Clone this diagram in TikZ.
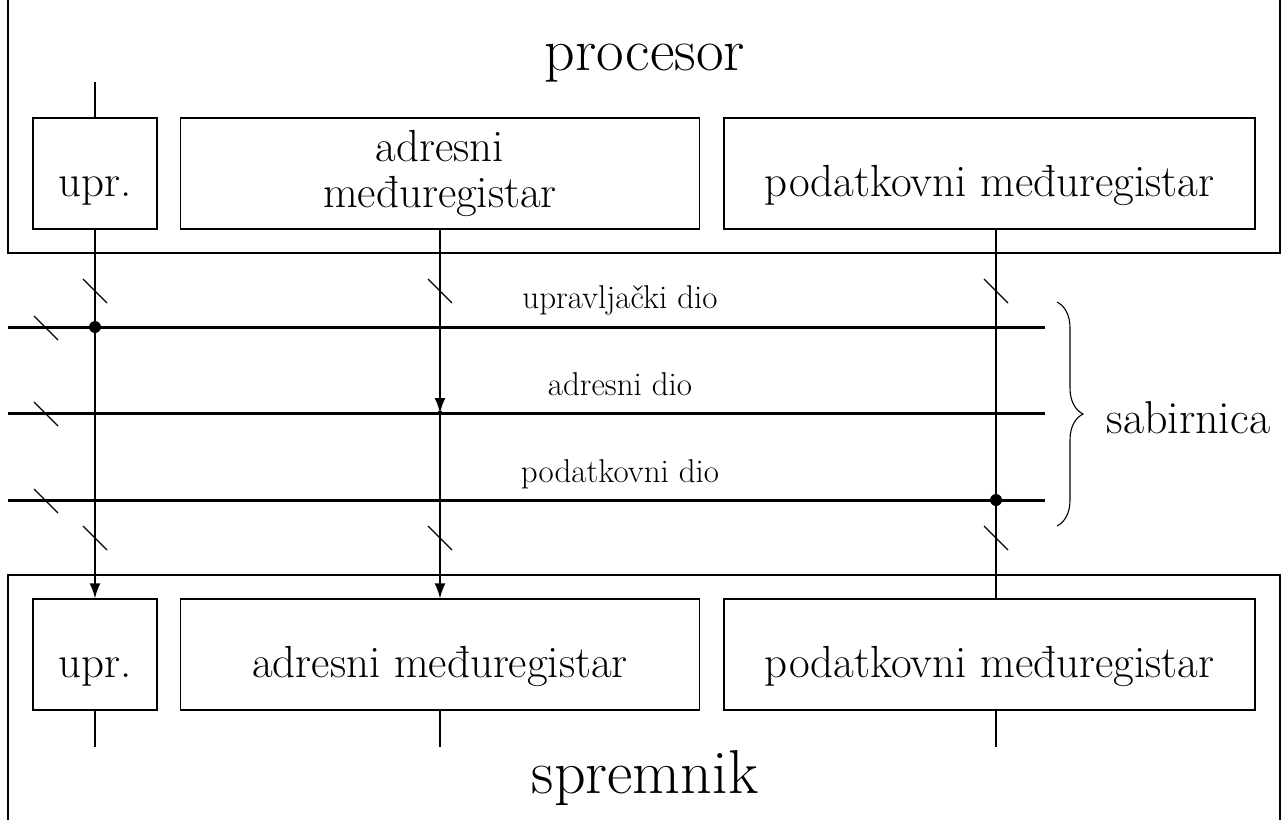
\documentclass[tikz,border=0pt]{standalone}
\usepackage{fontspec}
\usetikzlibrary{arrows.meta,calc,decorations.pathreplacing}
\begin{document}
\begin{tikzpicture}[x=1pt,y=-1pt,
  frame/.style={draw,line width=1.5pt},
  regbox/.style={draw,line width=1.5pt,minimum height=111pt,inner sep=0pt,
    align=center,font=\fontsize{45}{46}\selectfont},
  onebox/.style={regbox,text height=45pt,text depth=0pt},
  wire/.style={line width=1.6pt},
  awire/.style={line width=1.6pt,-{Latex[length=15pt,width=11pt]}},
  bus/.style={line width=3pt},
  tick/.style={line width=1.2pt},
  dotnode/.style={circle,fill,inner sep=0pt,minimum size=12pt},
  smalldot/.style={circle,fill,inner sep=0pt,minimum size=5pt},
  buslabel/.style={anchor=base,font=\fontsize{33}{38}\selectfont},
  title/.style={anchor=base,font=\fontsize{60}{66}\selectfont}]
\useasboundingbox (0,0) rectangle (1282,819);
\clip (0,0) rectangle (1282,819);

% outer frames
\draw[frame] (8,-5) -- (8,253) -- (1280,253) -- (1280,-5);
\draw[frame] (8,830) -- (8,575) -- (1280,575) -- (1280,830);
\node[title] (proc) at (645,70) {procesor};
\node[title,font=\fontsize{62}{68}\selectfont] (mem) at (645,793) {spremnik};

% processor registers
\node[onebox,minimum width=124pt] (pu) at (95,173.5) {upr.};
\node[regbox,minimum width=519pt] (pa) at (440,173.5) {\raisebox{-3pt}{adresni}\\\raisebox{-3pt}{međuregistar}};
\node[onebox,minimum width=531pt] (pp) at (989.5,173.5) {podatkovni međuregistar};

% memory registers
\node[onebox,minimum width=124pt] (mu) at (95,654.5) {upr.};
\node[onebox,minimum width=519pt] (ma) at (440,654.5) {adresni međuregistar};
\node[onebox,minimum width=531pt] (mp) at (989.5,654.5) {podatkovni međuregistar};

% bus coordinates
\coordinate (b1l) at (8,327);  \coordinate (b1r) at (1045,327);
\coordinate (b2l) at (8,413);  \coordinate (b2r) at (1045,413);
\coordinate (b3l) at (8,500);  \coordinate (b3r) at (1045,500);
\draw[bus] (b1l) -- (b1r);
\draw[bus] (b2l) -- (b2r);
\draw[bus] (b3l) -- (b3r);

\node[buslabel] (l1) at (620,308) {upravljački dio};
\node[buslabel] (l2) at (620,395) {adresni dio};
\node[buslabel] (l3) at (620,482) {podatkovni dio};

% column coordinates
\coordinate (ctop) at (95,82);
\coordinate (cbot1) at (95,747);
\coordinate (abot) at (440,747);
\coordinate (dcol) at (996,0);
\coordinate (dbot) at (996,747);

% junctions
\node[dotnode] (j1) at (95,327) {};
\node[smalldot] (j2) at (440,413) {};
\node[dotnode] (j3) at (996,500) {};

% control column
\draw[wire] (ctop) -- (pu.north);
\draw[awire] (pu.south) -- (mu.north);
\draw[wire] (mu.south) -- (cbot1);

% address column
\draw[awire] (pa.south) -- (j2.center);
\draw[awire] (j2.center) -- (ma.north);
\draw[wire] (ma.south) -- (abot);

% data column
\draw[wire] (pp.south -| dcol) -- (mp.north -| dcol);
\draw[wire] (mp.south -| dcol) -- (dbot);

% slash ticks
\foreach \tx/\ty in {95/291,440/291,996/291,95/538,440/538,996/538,46/328,46/414,46/501}{
  \draw[tick] (\tx-12,\ty-12) -- (\tx+12,\ty+12);
}

% brace
\draw[line width=1.1pt,decorate,decoration={brace,amplitude=26pt,aspect=0.5}]
  (1057,302) -- (1057,526);
\node[anchor=base west,font=\fontsize{46}{52}\selectfont] (sab) at (1103,433) {sabirnica};
\end{tikzpicture}
\end{document}
